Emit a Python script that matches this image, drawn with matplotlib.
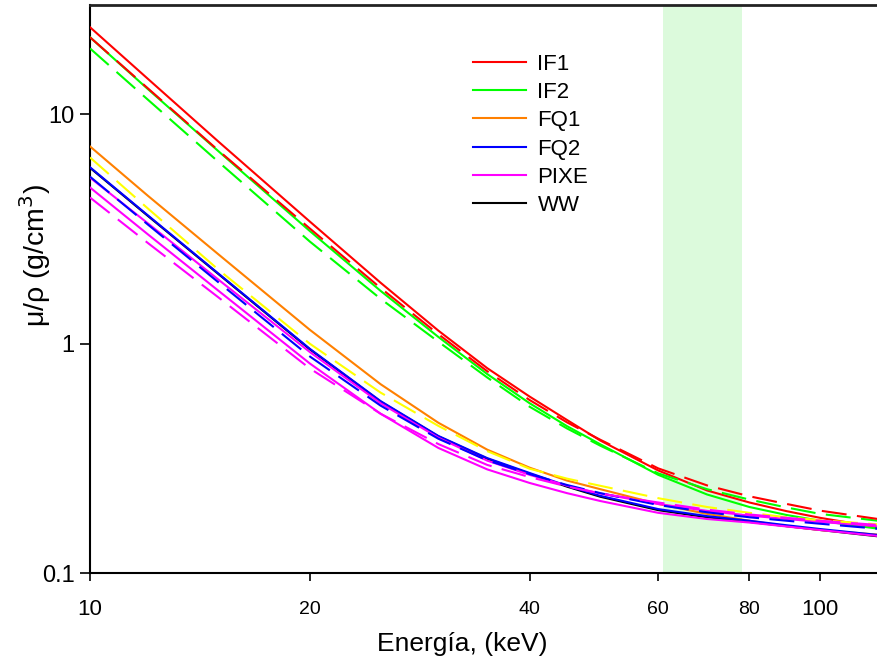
import matplotlib
matplotlib.use("Agg")
import matplotlib.pyplot as plt
from matplotlib.ticker import FixedLocator, NullLocator, FixedFormatter
from matplotlib.lines import Line2D

plt.rcParams['font.family'] = ['Liberation Sans', 'DejaVu Sans']

energy = [10, 12, 15, 20, 25, 30, 35, 40, 45, 50, 60, 70, 80, 90, 100, 120]

# solid lines (legend entries)
if1_solid = [24.0, 14.3, 7.6, 3.41, 1.845, 1.14, 0.782, 0.588, 0.465, 0.378, 0.280, 0.229, 0.203, 0.186, 0.174, 0.158]
if2_solid = [21.7, 12.9, 6.9, 3.10, 1.70, 1.07, 0.737, 0.550, 0.437, 0.364, 0.268, 0.220, 0.194, 0.179, 0.169, 0.156]
fq1_solid = [7.25, 4.42, 2.45, 1.15, 0.666, 0.452, 0.345, 0.288, 0.253, 0.232, 0.200, 0.181, 0.169, 0.160, 0.154, 0.147]
fq2_solid = [5.88, 3.63, 2.02, 0.95, 0.562, 0.396, 0.317, 0.273, 0.240, 0.217, 0.190, 0.177, 0.169, 0.1615, 0.1555, 0.1465]
pixe_solid = [4.80, 3.00, 1.70, 0.82, 0.495, 0.351, 0.283, 0.247, 0.223, 0.206, 0.183, 0.172, 0.166, 0.1595, 0.154, 0.145]
pixe_solid2 = [5.30, 3.35, 1.90, 0.92, 0.550, 0.389, 0.309, 0.268, 0.2405, 0.222, 0.200, 0.1866, 0.178, 0.172, 0.167, 0.160]
ww_solid = [5.85, 3.61, 2.01, 0.945, 0.559, 0.394, 0.315, 0.271, 0.238, 0.215, 0.188, 0.175, 0.167, 0.160, 0.154, 0.1445]

# dashed lines
if1_dash = [21.7, 13.0, 6.95, 3.18, 1.75, 1.10, 0.758, 0.568, 0.454, 0.381, 0.286, 0.241, 0.216, 0.200, 0.187, 0.172]
if2_dash = [19.4, 11.6, 6.2, 2.79, 1.57, 1.02, 0.712, 0.531, 0.427, 0.359, 0.272, 0.232, 0.209, 0.193, 0.181, 0.169]
fq1_dash = [6.49, 3.89, 2.10, 1.00, 0.612, 0.438, 0.340, 0.285, 0.258, 0.240, 0.212, 0.194, 0.183, 0.175, 0.170, 0.163]
fq2_dash = [5.35, 3.31, 1.85, 0.88, 0.537, 0.385, 0.310, 0.270, 0.242, 0.223, 0.198, 0.184, 0.175, 0.169, 0.164, 0.156]
pixe_dash = [4.34, 2.75, 1.59, 0.78, 0.495, 0.365, 0.296, 0.262, 0.2385, 0.222, 0.203, 0.189, 0.180, 0.174, 0.169, 0.162]

legend_labels = ['IF1', 'IF2', 'FQ1', 'FQ2', 'PIXE', 'WW']
legend_colors = ['#ff0000', '#00ff00', '#ff8000', '#0000ff', '#ff00ff', 'black']
span_range = [61, 78.2]
x_major = [10, 100]
x_minor = [20, 40, 60, 80]
y_major = [0.1, 1, 10]

fig = plt.figure(figsize=(8.78, 6.62), dpi=100)
ax = fig.add_axes([90/878, 89/662, 788/878, 568/662])
ax.set_xscale('log')
ax.set_yscale('log')

ax.axvspan(span_range[0], span_range[1], color='#dcfadc', zorder=0, lw=0)

lw = 1.5
dash = (12, 5)
ax.plot(energy, ww_solid, color='black', lw=lw, zorder=2)
ax.plot(energy, if1_solid, color='#ff0000', lw=lw, zorder=3)
ax.plot(energy, if2_solid, color='#00ff00', lw=lw, zorder=3)
ax.plot(energy, fq1_solid, color='#ff8000', lw=lw, zorder=3)
ax.plot(energy, fq2_solid, color='#0000ff', lw=lw, zorder=3)
ax.plot(energy, pixe_solid, color='#ff00ff', lw=lw, zorder=3)
ax.plot(energy, pixe_solid2, color='#ff00ff', lw=lw, zorder=3)

ax.plot(energy, if2_dash, color='#00ff00', lw=lw, dashes=dash, zorder=4)
ax.plot(energy, if1_dash, color='#ff0000', lw=lw, dashes=dash, zorder=4)
ax.plot(energy, fq1_dash, color='#ffff00', lw=lw, dashes=dash, zorder=4)
ax.plot(energy, fq2_dash, color='#0000ff', lw=lw, dashes=dash, zorder=4)
ax.plot(energy, pixe_dash, color='#ff00ff', lw=lw, dashes=dash, zorder=4)

handles = [Line2D([], [], color=c, lw=lw) for c in legend_colors]
ax.legend(handles, legend_labels, loc='upper left',
          bbox_to_anchor=((478-90)/788 - 0.012, 1 - (52-5)/568 + 0.005),
          frameon=False, fontsize=16, handlelength=2.4, handletextpad=0.5,
          labelspacing=0.33, borderaxespad=0, borderpad=0.2)

ax.set_xlim(10, 120)
ax.set_ylim(0.1, 30)

ax.xaxis.set_major_locator(FixedLocator(x_major))
ax.xaxis.set_major_formatter(FixedFormatter([str(v) for v in x_major]))
ax.xaxis.set_minor_locator(FixedLocator(x_minor))
ax.xaxis.set_minor_formatter(FixedFormatter([str(v) for v in x_minor]))
ax.yaxis.set_major_locator(FixedLocator(y_major))
ax.yaxis.set_major_formatter(FixedFormatter(['0.1', '1', '10']))
ax.yaxis.set_minor_locator(NullLocator())

ax.tick_params(axis='x', which='major', direction='out', length=6, width=1.2,
               labelsize=16, pad=13)
ax.tick_params(axis='x', which='minor', direction='out', length=6, width=1.2,
               labelsize=14, pad=14)
ax.tick_params(axis='y', which='major', direction='out', length=7, width=1.2,
               labelsize=17, pad=4)

for s in ['left', 'bottom']:
    ax.spines[s].set_linewidth(1.5)
ax.spines['top'].set_linewidth(2)
ax.spines['top'].set_color('#222222')
ax.spines['right'].set_visible(False)

fig.text(462/878, 1 - 644/662, 'Energía, (keV)', ha='center', va='center', fontsize=19)
fig.text(35/878, 1 - 255/662, r'μ/ρ (g/cm$^3$)', ha='center', va='center',
         rotation=90, fontsize=20.5)

fig.savefig('out.png', dpi=100)
